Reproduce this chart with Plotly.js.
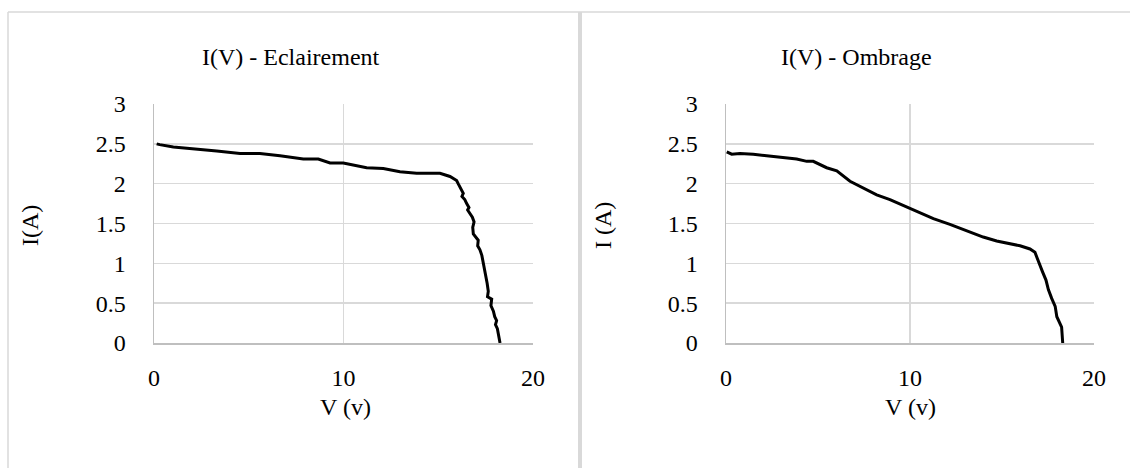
<!DOCTYPE html>
<html>
<head>
<meta charset="utf-8">
<script src="https://cdn.plot.ly/plotly-3.0.1.min.js"></script>
<style>html,body{margin:0;padding:0;background:#fff;}#chart{width:1130px;height:468px;}</style>
</head>
<body>
<div id="chart"></div>
<script>
// Eclairement curve (V in volts, I in amperes)
const vEclairement = [0.14, 0.3, 1.02, 2.07, 3.31, 4.54, 5.59, 6.65, 7.88, 8.67, 9.29, 9.99, 11.22, 12.10, 12.98, 13.86, 15.09, 15.62, 15.97, 16.05, 16.15, 16.32, 16.25, 16.40, 16.50, 16.62, 16.55, 16.68, 16.80, 16.89, 16.82, 16.85, 17.00, 17.11, 17.08, 17.20, 17.30, 17.38, 17.45, 17.52, 17.58, 17.64, 17.60, 17.82, 17.78, 17.91, 17.98, 18.08, 18.02, 18.12, 18.17, 18.26];
const iEclairement = [2.50, 2.49, 2.46, 2.44, 2.41, 2.38, 2.38, 2.35, 2.31, 2.31, 2.26, 2.26, 2.20, 2.19, 2.15, 2.13, 2.13, 2.09, 2.04, 2.00, 1.96, 1.88, 1.84, 1.80, 1.75, 1.70, 1.67, 1.63, 1.58, 1.52, 1.45, 1.37, 1.33, 1.29, 1.22, 1.17, 1.10, 1.00, 0.93, 0.87, 0.75, 0.65, 0.58, 0.55, 0.47, 0.40, 0.33, 0.28, 0.23, 0.18, 0.12, 0.00];
// Ombrage curve
const vOmbrage = [0.04, 0.31, 0.76, 1.48, 2.21, 2.93, 3.84, 4.39, 4.74, 5.47, 6.02, 6.74, 7.46, 8.19, 8.91, 9.82, 10.54, 11.27, 12.17, 13.26, 13.98, 14.71, 15.43, 15.98, 16.52, 16.79, 16.92, 17.07, 17.21, 17.39, 17.52, 17.70, 17.89, 17.98, 18.16, 18.24, 18.30];
const iOmbrage = [2.40, 2.37, 2.38, 2.37, 2.35, 2.33, 2.31, 2.28, 2.28, 2.20, 2.16, 2.03, 1.95, 1.86, 1.80, 1.71, 1.63, 1.56, 1.49, 1.39, 1.33, 1.28, 1.25, 1.22, 1.18, 1.14, 1.06, 0.96, 0.89, 0.79, 0.67, 0.56, 0.46, 0.33, 0.23, 0.20, 0.00];

const titleLeft = "I(V) - Eclairement";
const titleRight = "I(V) - Ombrage";
const xTitle = "V (v)";
const yTitleLeft = "I(A)";
const yTitleRight = "I (A)";
const xTicks = [0, 10, 20];
const yTicks = [0, 0.5, 1, 1.5, 2, 2.5, 3];

const W = 1130, H = 468;
const FONT = "Liberation Serif, Times New Roman, serif";
const px = v => v / W, py = v => 1 - v / H;

const lineStyle = {color: "#000", width: 3};
const traces = [
  {x: vEclairement, y: iEclairement, mode: "lines", line: lineStyle, xaxis: "x", yaxis: "y", hoverinfo: "skip"},
  {x: vOmbrage, y: iOmbrage, mode: "lines", line: lineStyle, xaxis: "x2", yaxis: "y2", hoverinfo: "skip"}
];

function xAx(domain, anchor) {
  return {domain: domain, anchor: anchor, range: [0, 20], tickvals: xTicks, ticktext: xTicks.map(String),
    showgrid: true, gridcolor: "#d9d9d9", gridwidth: 1.5, showline: true, linecolor: "#bfbfbf", linewidth: 1.5,
    zeroline: false, ticks: "outside", ticklen: 13, tickcolor: "rgba(0,0,0,0)",
    tickfont: {family: FONT, size: 24, color: "#000"}, fixedrange: true};
}
function yAx(domain, anchor) {
  return {domain: domain, anchor: anchor, range: [0, 3], tickvals: yTicks, ticktext: yTicks.map(String),
    showgrid: true, gridcolor: "#d9d9d9", gridwidth: 1.5, showline: true, linecolor: "#bfbfbf", linewidth: 1.5,
    zeroline: false, ticks: "outside", ticklen: 22, tickcolor: "rgba(0,0,0,0)",
    tickfont: {family: FONT, size: 24, color: "#000"}, fixedrange: true};
}

function ann(text, x, y, size, angle) {
  return {text: text, x: px(x), y: py(y), xref: "paper", yref: "paper", xanchor: "center", yanchor: "middle",
    showarrow: false, textangle: angle || 0, font: {family: FONT, size: size, color: "#000"}};
}

const yDom = [py(343), py(104)];
const layout = {
  width: W, height: H, margin: {l: 0, r: 0, t: 0, b: 0},
  paper_bgcolor: "#fff", plot_bgcolor: "#fff", showlegend: false,
  xaxis: xAx([px(154), px(533)], "y"),
  yaxis: yAx(yDom, "x"),
  xaxis2: xAx([px(726), px(1094)], "y2"),
  yaxis2: yAx(yDom, "x2"),
  annotations: [
    ann(titleLeft, 291, 57, 24),
    ann(titleRight, 856, 57, 24),
    ann(xTitle, 345, 407, 24),
    ann(xTitle, 910, 407, 24),
    ann(yTitleLeft, 30, 226, 24, -90),
    ann(yTitleRight, 603, 226, 24, -90)
  ],
  shapes: [
    {type: "line", xref: "paper", yref: "paper", x0: px(8), x1: 1, y0: py(12), y1: py(12), line: {color: "#d9d9d9", width: 1.5}},
    {type: "line", xref: "paper", yref: "paper", x0: px(8), x1: px(8), y0: py(12), y1: 0, line: {color: "#d9d9d9", width: 1.5}},
    {type: "line", xref: "paper", yref: "paper", x0: px(580), x1: px(580), y0: py(12), y1: 0, line: {color: "#d9d9d9", width: 4}}
  ]
};

Plotly.newPlot("chart", traces, layout, {displayModeBar: false, staticPlot: true});
</script>
</body>
</html>
